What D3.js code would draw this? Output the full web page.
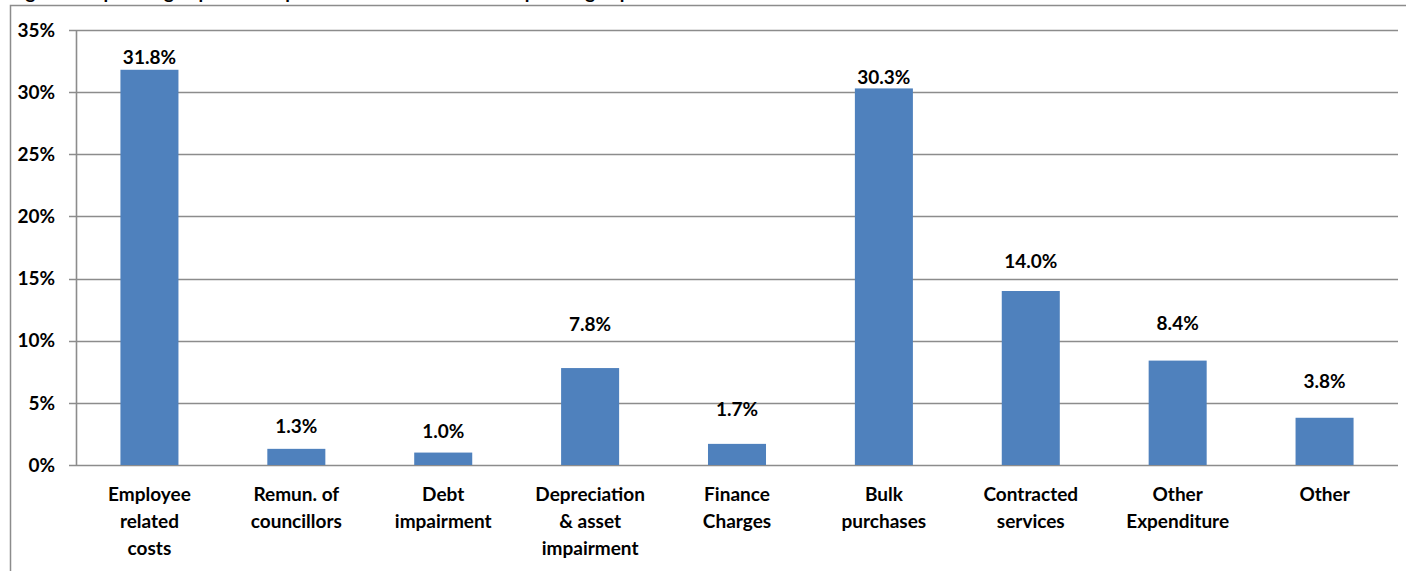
<!DOCTYPE html>
<html>
<head>
<meta charset="utf-8">
<script src="https://cdn.jsdelivr.net/npm/d3@7"></script>
<style>
  body { margin: 0; background: #fff; }
  svg { display: block; font-family: Lato, "Open Sans", sans-serif; font-weight: bold; }
</style>
</head>
<body>
<div id="wrapper"></div>
<script>
// data
const categories = [
  ["Employee", "related", "costs"],
  ["Remun. of", "councillors"],
  ["Debt", "impairment"],
  ["Depreciation", "& asset", "impairment"],
  ["Finance", "Charges"],
  ["Bulk", "purchases"],
  ["Contracted", "services"],
  ["Other", "Expenditure"],
  ["Other"]
]
const values = [31.8, 1.3, 1.0, 7.8, 1.7, 30.3, 14.0, 8.4, 3.8]
// level (in %) at which each value label sits in the original
const labelLevels = [32.8, 3.1, 2.7, 11.3, 4.5, 31.2, 16.4, 11.4, 6.7]
const yTicks = [0, 5, 10, 15, 20, 25, 30, 35]
const title = "Figure 1: Operating expenditure per main item as % of total operating expenditure"

const dimensions = {
  width: 1406,
  height: 571,
  margin: { top: 30, right: 8, bottom: 106, left: 76 },
}
dimensions.boundedWidth = dimensions.width - dimensions.margin.left - dimensions.margin.right
dimensions.boundedHeight = dimensions.height - dimensions.margin.top - dimensions.margin.bottom

const svg = d3.select("#wrapper").append("svg")
    .attr("width", dimensions.width)
    .attr("height", dimensions.height)

// title, mostly cut off at the top (as in the original)
svg.append("text")
    .attr("x", 10)
    .attr("y", -1)
    .attr("font-size", 19)
    .attr("fill", "#000")
    .text(title)

// frame
svg.append("path")
    .attr("d", `M10.5,${dimensions.height + 2} V5.5 H${dimensions.width + 2}`)
    .attr("fill", "none")
    .attr("stroke", "#8c8c8c")
    .attr("stroke-width", 1.5)

const bounds = svg.append("g")
    .attr("transform", `translate(${dimensions.margin.left}, ${dimensions.margin.top})`)

const x = d3.scaleBand()
    .domain(d3.range(values.length))
    .range([0, dimensions.boundedWidth])
    .paddingInner(0.605)
    .paddingOuter(0.3025)

const y = d3.scaleLinear()
    .domain([0, 35])
    .range([dimensions.boundedHeight, 0])

// gridlines
bounds.append("g")
  .selectAll("line")
  .data(yTicks)
  .join("line")
    .attr("x1", -7)
    .attr("x2", dimensions.boundedWidth)
    .attr("y1", d => Math.round(y(d)) + 0.5)
    .attr("y2", d => Math.round(y(d)) + 0.5)
    .attr("stroke", "#8c8c8c")
    .attr("stroke-width", 1.6)

// y axis line
bounds.append("line")
    .attr("x1", 0.5).attr("x2", 0.5)
    .attr("y1", y(35)).attr("y2", y(0))
    .attr("stroke", "#8c8c8c")
    .attr("stroke-width", 1.6)

// y tick labels
bounds.append("g")
  .selectAll("text")
  .data(yTicks)
  .join("text")
    .attr("x", -21)
    .attr("y", d => y(d))
    .attr("dy", "0.35em")
    .attr("text-anchor", "end")
    .attr("font-size", 19)
    .text(d => d + "%")

// bars
bounds.append("g")
  .selectAll("rect")
  .data(values)
  .join("rect")
    .attr("x", (d, i) => x(i))
    .attr("width", x.bandwidth())
    .attr("y", d => y(d))
    .attr("height", d => y(0) - y(d))
    .attr("fill", "#4f81bd")

// value labels
bounds.append("g")
  .selectAll("text")
  .data(values)
  .join("text")
    .attr("x", (d, i) => x(i) + x.bandwidth() / 2)
    .attr("y", (d, i) => y(labelLevels[i]))
    .attr("dy", "0.35em")
    .attr("text-anchor", "middle")
    .attr("font-size", 19)
    .text(d => d.toFixed(1) + "%")

// category labels
const catLabels = bounds.append("g")
  .selectAll("text")
  .data(categories)
  .join("text")
    .attr("x", (d, i) => x(i) + x.bandwidth() / 2)
    .attr("y", dimensions.boundedHeight + 29)
    .attr("text-anchor", "middle")
    .attr("font-size", 19)

catLabels.selectAll("tspan")
  .data(d => d)
  .join("tspan")
    .attr("x", function() { return this.parentNode.getAttribute("x") })
    .attr("dy", (d, i) => i === 0 ? "0.35em" : 27)
    .text(d => d)
</script>
</body>
</html>
